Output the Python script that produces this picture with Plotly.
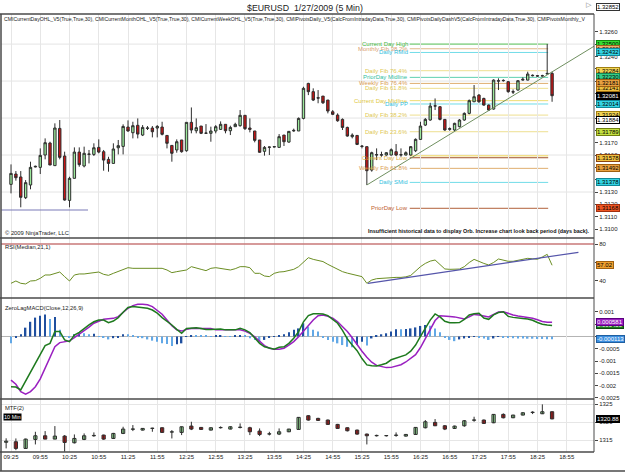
import plotly.graph_objects as go
from plotly.subplots import make_subplots
import pandas as pd

# ---------------- DATA ----------------
bar_times = pd.date_range("2009-01-27 09:25", periods=112, freq="5min")

opens = [1.31362,1.31446,1.31422,1.31254,1.31357,1.31503,1.31500,1.31600,1.31697,1.31514,
1.31816,1.31592,1.31232,1.31411,1.31624,1.31511,1.31605,1.31605,1.31662,1.31627,
1.31565,1.31532,1.31659,1.31670,1.31827,1.31781,1.31841,1.31762,1.31816,1.31819,
1.31819,1.31827,1.31759,1.31678,1.31641,1.31722,1.31635,1.31865,1.31797,1.31835,
1.31776,1.31776,1.31795,1.31808,1.31849,1.31797,1.31830,1.31838,1.31922,1.31819,
1.31795,1.31722,1.31630,1.31662,1.31665,1.31662,1.31762,1.31705,1.31795,1.31795,
1.31897,1.32181,1.32114,1.32065,1.32078,1.32046,1.31951,1.31924,1.31889,1.31824,
1.31749,1.31759,1.31673,1.31668,1.31478,1.31600,1.31603,1.31600,1.31600,1.31627,
1.31600,1.31600,1.31600,1.31635,1.31727,1.31843,1.31884,1.31997,1.31992,1.31889,
1.31808,1.31803,1.31830,1.31884,1.31938,1.32032,1.32086,1.32059,1.32005,1.31973,
1.32203,1.32203,1.32195,1.32114,1.32127,1.32208,1.32208,1.32243,1.32243,1.32241,
1.32257,1.32262]
highs = [1.31524,1.31470,1.31470,1.31397,1.31546,1.31514,1.31654,1.31735,1.31708,1.31857,
1.31884,1.31627,1.31424,1.31662,1.31662,1.31668,1.31641,1.31695,1.31727,1.31641,
1.31586,1.31695,1.31722,1.31849,1.31881,1.31870,1.31897,1.31843,1.31835,1.31835,
1.31843,1.31870,1.31762,1.31678,1.31727,1.31722,1.31865,1.31986,1.31897,1.31835,
1.31851,1.31830,1.31843,1.31873,1.31849,1.31838,1.31862,1.31965,1.31922,1.31897,
1.31795,1.31722,1.31673,1.31668,1.31670,1.31770,1.31762,1.31795,1.31814,1.31905,
1.32154,1.32186,1.32141,1.32127,1.32078,1.32046,1.31965,1.31938,1.31897,1.31830,
1.31776,1.31759,1.31681,1.31668,1.31627,1.31654,1.31627,1.31624,1.31654,1.31689,
1.31654,1.31630,1.31673,1.31735,1.31870,1.31900,1.32024,1.32059,1.31997,1.31892,
1.31824,1.31862,1.31892,1.31946,1.32051,1.32168,1.32095,1.32065,1.32010,1.32214,
1.32222,1.32214,1.32200,1.32132,1.32208,1.32230,1.32276,1.32254,1.32249,1.32251,
1.32500,1.32276]
lows = [1.31289,1.31392,1.31176,1.31243,1.31322,1.31500,1.31446,1.31565,1.31519,1.31514,
1.31565,1.31230,1.31176,1.31411,1.31505,1.31500,1.31532,1.31592,1.31614,1.31473,
1.31465,1.31532,1.31605,1.31605,1.31789,1.31735,1.31735,1.31754,1.31803,1.31743,
1.31743,1.31759,1.31654,1.31546,1.31619,1.31619,1.31627,1.31776,1.31776,1.31770,
1.31773,1.31708,1.31776,1.31803,1.31776,1.31762,1.31830,1.31830,1.31803,1.31784,
1.31703,1.31619,1.31595,1.31600,1.31662,1.31662,1.31673,1.31700,1.31789,1.31795,
1.31889,1.32086,1.32038,1.32020,1.32014,1.31938,1.31924,1.31870,1.31803,1.31749,
1.31735,1.31681,1.31654,1.31357,1.31465,1.31559,1.31586,1.31595,1.31597,1.31592,
1.31586,1.31597,1.31595,1.31624,1.31722,1.31835,1.31878,1.31965,1.31881,1.31797,
1.31797,1.31795,1.31824,1.31878,1.31930,1.32030,1.32024,1.32000,1.31957,1.31968,
1.32127,1.32195,1.32105,1.32095,1.32122,1.32203,1.32205,1.32238,1.32235,1.32238,
1.32254,1.32032]
closes = [1.31451,1.31416,1.31257,1.31376,1.31500,1.31508,1.31597,1.31700,1.31519,1.31819,
1.31581,1.31235,1.31411,1.31624,1.31522,1.31614,1.31608,1.31659,1.31624,1.31559,
1.31532,1.31649,1.31676,1.31832,1.31795,1.31838,1.31770,1.31824,1.31819,1.31789,
1.31832,1.31768,1.31695,1.31614,1.31708,1.31627,1.31865,1.31803,1.31822,1.31776,
1.31778,1.31795,1.31830,1.31849,1.31797,1.31824,1.31849,1.31922,1.31814,1.31808,
1.31719,1.31622,1.31662,1.31665,1.31668,1.31749,1.31708,1.31792,1.31800,1.31897,
1.32141,1.32114,1.32046,1.32062,1.32024,1.31957,1.31930,1.31878,1.31824,1.31754,
1.31762,1.31686,1.31670,1.31473,1.31619,1.31603,1.31600,1.31619,1.31643,1.31600,
1.31603,1.31619,1.31668,1.31727,1.31835,1.31889,1.31997,1.31999,1.31889,1.31803,
1.31814,1.31857,1.31884,1.31938,1.32041,1.32073,1.32032,1.32005,1.31965,1.32208,
1.32200,1.32205,1.32114,1.32111,1.32203,1.32214,1.32257,1.32246,1.32241,1.32243,
1.32262,1.32081]

rsi = [37.5,40.0,37.5,36.8,40.0,40.4,42.9,46.5,46.5,48.3,
49.7,44.7,40.0,46.5,47.6,47.6,48.3,49.0,49.7,47.2,
46.1,48.3,50.1,51.9,54.4,53.7,53.7,53.3,53.7,54.0,
53.7,53.7,51.9,49.0,50.1,50.8,51.9,55.5,53.7,52.6,
51.2,53.7,54.4,53.7,52.6,51.9,53.3,55.5,55.5,54.4,
48.3,48.3,45.4,44.7,48.3,49.7,50.1,51.2,52.6,55.5,
60.9,65.2,63.4,61.9,61.0,58.0,55.5,52.5,50.1,48.5,
47.2,46.0,44.7,37.5,41.0,42.5,43.0,43.6,43.8,43.9,
43.9,44.5,46.0,51.0,55.5,59.0,61.5,62.7,58.0,53.0,
52.6,52.8,52.9,55.5,60.0,63.4,61.0,59.0,57.3,60.0,
63.8,62.5,61.3,61.3,62.5,63.5,64.5,64.0,63.5,66.0,
68.8,57.02]

macd = [-0.00205,-0.00206,-0.00218,-0.00182,-0.00150,-0.00109,-0.00073,-0.00037,-0.00028,0.00020,
0.00020,-0.00014,-0.00021,0.00006,0.00017,0.00033,0.00047,0.00060,0.00067,0.00067,
0.00056,0.00063,0.00077,0.00099,0.00118,0.00122,0.00120,0.00120,0.00115,0.00108,
0.00095,0.00077,0.00063,0.00047,0.00029,0.00013,0.00033,0.00036,0.00036,0.00033,
0.00029,0.00029,0.00029,0.00031,0.00027,0.00027,0.00027,0.00033,0.00027,0.00016,
-0.00007,-0.00028,-0.00042,-0.00048,-0.00052,-0.00044,-0.00042,-0.00028,-0.00007,0.00020,
0.00060,0.00085,0.00093,0.00093,0.00092,0.00085,0.00070,0.00054,0.00025,-0.00010,
-0.00035,-0.00058,-0.00090,-0.00116,-0.00119,-0.00120,-0.00115,-0.00109,-0.00095,-0.00088,
-0.00083,-0.00075,-0.00060,-0.00035,0.00000,0.00035,0.00067,0.00092,0.00080,0.00062,
0.00056,0.00056,0.00057,0.00070,0.00088,0.00093,0.00095,0.00075,0.00070,0.00088,
0.00098,0.00101,0.00082,0.00078,0.00074,0.00073,0.00071,0.00066,0.00057,0.00050,
0.00047,0.00045]
macd_avg = [-0.00178,-0.00195,-0.00225,-0.00235,-0.00225,-0.00205,-0.00173,-0.00130,-0.00082,-0.00042,
-0.00025,-0.00021,-0.00018,-0.00005,0.00009,0.00022,0.00038,0.00054,0.00063,0.00070,
0.00072,0.00074,0.00081,0.00099,0.00115,0.00126,0.00131,0.00131,0.00129,0.00122,
0.00108,0.00091,0.00067,0.00044,0.00027,0.00022,0.00029,0.00033,0.00033,0.00033,
0.00033,0.00033,0.00027,0.00027,0.00027,0.00026,0.00026,0.00027,0.00022,0.00013,
-0.00001,-0.00021,-0.00037,-0.00048,-0.00052,-0.00052,-0.00048,-0.00035,-0.00021,-0.00001,
0.00022,0.00047,0.00067,0.00085,0.00088,0.00082,0.00075,0.00060,0.00042,0.00020,
-0.00005,-0.00035,-0.00060,-0.00085,-0.00105,-0.00118,-0.00124,-0.00127,-0.00126,-0.00121,
-0.00115,-0.00104,-0.00090,-0.00074,-0.00045,-0.00010,0.00030,0.00065,0.00085,0.00085,
0.00082,0.00080,0.00076,0.00071,0.00080,0.00090,0.00088,0.00085,0.00080,0.00090,
0.00100,0.00101,0.00093,0.00088,0.00084,0.00081,0.00078,0.00074,0.00068,0.00061,
0.00058,0.000581]
macd_diff = [-0.00028,-0.00004,0.00009,0.00036,0.00060,0.00077,0.00085,0.00090,0.00071,0.00080,
0.00027,0.00002,-0.00005,0.00009,0.00013,0.00013,0.00009,0.00011,0.00001,-0.00005,
-0.00012,-0.00007,-0.00003,0.00009,0.00009,0.00006,-0.00005,-0.00007,-0.00012,-0.00017,
-0.00021,-0.00028,-0.00031,-0.00039,-0.00032,-0.00028,-0.00001,0.00006,0.00006,0.00003,
0.00003,0.00002,0.00003,0.00004,0.00002,0.00002,0.00004,0.00006,0.00006,-0.00007,
-0.00014,-0.00021,-0.00014,-0.00005,-0.00001,0.00006,0.00009,0.00017,0.00027,0.00033,
0.00054,0.00040,0.00027,0.00020,-0.00005,-0.00014,-0.00021,-0.00028,-0.00035,-0.00042,
-0.00044,-0.00035,-0.00021,-0.00037,-0.00008,0.00005,0.00009,0.00013,0.00020,0.00030,
0.00030,0.00031,0.00033,0.00037,0.00043,0.00047,0.00044,0.00033,0.00017,-0.00005,
-0.00014,-0.00019,-0.00012,-0.00008,-0.00004,-0.00001,-0.00003,-0.00008,-0.00014,-0.00008,
-0.00002,-0.00004,-0.00005,-0.00007,-0.00008,-0.00008,-0.00009,-0.00009,-0.00010,-0.00010,
-0.00011,-0.000113]

mtf_times = pd.date_range("2009-01-27 09:20", periods=57, freq="10min")
mtf_open = [1314.40,1314.54,1312.69,1315.19,1316.20,1315.28,1316.11,1314.26,1315.19,1316.20,
1316.39,1315.46,1316.85,1318.00,1317.78,1318.24,1318.43,1317.22,1317.13,1318.89,
1318.52,1317.78,1318.43,1318.06,1318.50,1318.43,1317.50,1316.67,1316.67,1317.31,
1317.96,1321.76,1321.02,1320.56,1319.35,1318.43,1317.78,1316.67,1316.20,1316.20,
1316.30,1316.11,1316.57,1318.43,1319.91,1318.98,1318.24,1318.98,1320.50,1320.56,
1319.81,1322.13,1321.20,1321.94,1322.65,1322.31,1322.87]
mtf_high = [1315.50,1315.46,1315.40,1317.31,1317.50,1318.89,1316.39,1316.57,1316.85,1317.13,
1316.50,1317.00,1318.70,1319.17,1318.30,1318.43,1318.50,1317.78,1318.75,1320.09,
1318.60,1318.50,1318.80,1318.80,1319.63,1318.70,1318.24,1317.31,1318.24,1318.10,
1321.40,1321.90,1321.20,1320.70,1319.50,1318.50,1317.90,1316.80,1316.50,1316.40,
1317.13,1316.70,1318.60,1320.56,1320.83,1319.17,1319.00,1320.56,1321.48,1320.70,
1322.20,1322.41,1322.00,1322.70,1323.00,1324.91,1322.90]
mtf_low = [1312.70,1312.22,1312.60,1313.80,1315.28,1315.28,1311.76,1314.07,1315.00,1315.93,
1315.10,1315.30,1316.67,1317.50,1317.70,1317.31,1317.00,1315.46,1316.39,1317.78,
1317.90,1317.70,1318.20,1318.00,1318.24,1316.39,1316.11,1316.30,1316.39,1317.20,
1317.90,1320.40,1320.30,1319.20,1318.10,1317.40,1316.50,1313.80,1316.00,1316.00,
1315.93,1316.00,1316.50,1318.24,1318.89,1317.78,1318.10,1318.70,1320.09,1319.50,
1319.70,1321.02,1321.10,1321.90,1322.22,1322.22,1320.80]
mtf_close = [1314.70,1312.69,1315.28,1316.20,1315.28,1316.11,1314.35,1315.46,1316.20,1316.30,
1315.28,1316.85,1318.06,1318.10,1318.24,1318.30,1317.13,1317.30,1318.70,1318.06,
1317.96,1318.43,1318.50,1318.70,1318.60,1317.31,1316.57,1316.75,1317.31,1318.06,
1321.30,1320.56,1320.46,1319.35,1318.24,1317.59,1316.67,1316.20,1316.30,1316.25,
1316.40,1316.57,1318.52,1320.09,1318.98,1318.06,1318.89,1320.37,1320.60,1319.63,
1322.13,1321.20,1321.94,1322.59,1322.75,1322.87,1320.88]

# pivot / level lines
level_names = ["Current Day High", "Monthly Fib 38.2%", "Daily RMid", "Daily Fib 76.4%",
               "PriorDay Midline", "Weekly Fib 76.4%", "Daily Fib 61.8%", "Current Day Midline",
               "Daily PP", "Daily Fib 38.2%", "Daily Fib 23.6%", "Current Day Low",
               "Weekly Fib 61.8%", "Daily SMid", "PriorDay Low"]
level_values = [1.32500, 1.32462, 1.32432, 1.32284, 1.32230, 1.32181, 1.32141, 1.32041,
                1.32014, 1.31924, 1.31789, 1.31578, 1.31492, 1.31378, 1.31168]
level_line_colors = ["#5cc85c", "#e0b888", "#70dce8", "#eedf90", "#60d0b0", "#dfae70",
                     "#eedf90", "#eedc70", "#70dce8", "#eedf90", "#eedf90", "#a0522d",
                     "#dfae70", "#70dce8", "#b0603a"]
level_text_colors = ["#3cb83c", "#d9a070", "#30c0e0", "#e0c850", "#30c0a0", "#d99a50",
                     "#e0c850", "#e0c840", "#30c0e0", "#e0c850", "#e0c850", "#e0b040",
                     "#d99a50", "#30c0e0", "#c06030"]

# right-axis value boxes (value, background, text, border)
box_values = [1.32500, 1.32462, 1.32432, 1.32284, 1.32230, 1.32141, 1.32181, 1.32014,
              1.31924, 1.31884, 1.31789, 1.31578, 1.31492, 1.31378, 1.31168, 1.32081]
box_bg = ["#33dd33", "#eab070", "#33d4e4", "#f2d455", "#33cc88", "#f0c040", "#e8a040", "#33d4e4",
          "#f2d455", "#ffffff", "#c4e040", "#f0c040", "#e8a040", "#33d4e4", "#ee5522", "#000000"]
box_fg = ["#000000"] * 15 + ["#ffffff"]
box_border = ["#118811", "#a06020", "#118899", "#a08010", "#118855", "#a07010", "#a06010", "#118899",
              "#a08010", "#000000", "#708010", "#8b4513", "#a06010", "#118899", "#a03010", "#000000"]
top_box_text = "1.32852"

main_ticks = [1.3100, 1.3110, 1.3120, 1.3130, 1.3140, 1.3150, 1.3160, 1.3170, 1.3180,
              1.3190, 1.3200, 1.3210, 1.3220, 1.3230, 1.3240, 1.3250, 1.3260]
main_grid = [1.3130, 1.3160, 1.3190, 1.3220, 1.3250]
rsi_ticks = [40, 60, 80]
macd_ticks = [0.001, 0.0005, 0.0, -0.0005, -0.001, -0.0015, -0.002, -0.0025]
macd_ticktext = ["0.001", "0.0005", "0", "-0.0005", "-0.001", "-0.0015", "-0.002", "-0.0025"]
mtf_ticks = [1315, 1320, 1325]

trend_x = ["2009-01-27 15:30", "2009-01-27 19:25"]
trend_y = [1.31357, 1.32492]
support_x = ["2009-01-27 09:15", "2009-01-27 10:44"]
support_y = [1.31154, 1.31154]
rsi_trend_x = ["2009-01-27 15:31", "2009-01-27 19:07"]
rsi_trend_y = [37.5, 71.0]
level_start = "2009-01-27 16:14"
level_end = "2009-01-27 18:36"

# ---------------- GEOMETRY ----------------
W, H = 625, 474
PL, PR, PT, PB = 1, 594, 14, 452
def fx(px): return (px - PL) / (PR - PL)
def fy(py): return (PB - py) / (PB - PT)

FONT = "Arial, Liberation Sans, sans-serif"
x_range = ["2009-01-27 09:14:44", "2009-01-27 19:23:00"]

fig = make_subplots(rows=4, cols=1, shared_xaxes=True, vertical_spacing=0)

# main candles
fig.add_trace(go.Candlestick(
    x=bar_times, open=opens, high=highs, low=lows, close=closes,
    increasing=dict(fillcolor="#9be89b", line=dict(color="#2e2e2e", width=1)),
    decreasing=dict(fillcolor="#c81414", line=dict(color="#2e2e2e", width=1)),
    whiskerwidth=0, showlegend=False, hoverinfo="skip"), row=1, col=1)
fig.add_trace(go.Scatter(x=trend_x, y=trend_y, mode="lines",
    line=dict(color="#6f8f5f", width=1), showlegend=False, hoverinfo="skip"), row=1, col=1)
fig.add_trace(go.Scatter(x=support_x, y=support_y, mode="lines",
    line=dict(color="#7a7ab8", width=1.2), showlegend=False, hoverinfo="skip"), row=1, col=1)

# RSI
fig.add_trace(go.Scatter(x=bar_times, y=rsi, mode="lines",
    line=dict(color="#6b8e23", width=1), showlegend=False, hoverinfo="skip"), row=2, col=1)
fig.add_trace(go.Scatter(x=rsi_trend_x, y=rsi_trend_y, mode="lines",
    line=dict(color="#5555aa", width=1.2), showlegend=False, hoverinfo="skip"), row=2, col=1)

# MACD
hist_colors = []
for i, v in enumerate(macd_diff):
    prev = macd_diff[i - 1] if i > 0 else v
    hist_colors.append("#1f4f9f" if v > prev else "#62a8e6")
fig.add_trace(go.Bar(x=bar_times, y=macd_diff, width=90000, marker=dict(color=hist_colors, line=dict(width=0)),
    showlegend=False, hoverinfo="skip"), row=3, col=1)
fig.add_trace(go.Scatter(x=bar_times, y=macd_avg, mode="lines",
    line=dict(color="#9a20c0", width=1.5), showlegend=False, hoverinfo="skip"), row=3, col=1)
fig.add_trace(go.Scatter(x=bar_times, y=macd, mode="lines",
    line=dict(color="#1e7a1e", width=1.5), showlegend=False, hoverinfo="skip"), row=3, col=1)

# MTF 10-min candles (wicks + bodies)
wx, wy = [], []
for t, h, l in zip(mtf_times, mtf_high, mtf_low):
    wx += [t, t, None]
    wy += [l, h, None]
fig.add_trace(go.Scatter(x=wx, y=wy, mode="lines", line=dict(color="#2e2e2e", width=1),
    showlegend=False, hoverinfo="skip"), row=4, col=1)
body_base = [min(o, c) for o, c in zip(mtf_open, mtf_close)]
body_h = [max(abs(c - o), 0.07) for o, c in zip(mtf_open, mtf_close)]
body_col = ["#9be89b" if c >= o else "#c81414" for o, c in zip(mtf_open, mtf_close)]
fig.add_trace(go.Bar(x=mtf_times, y=body_h, base=body_base, width=200000,
    marker=dict(color=body_col, line=dict(color="#2e2e2e", width=1)),
    showlegend=False, hoverinfo="skip"), row=4, col=1)

shapes = []
annotations = []

# main grid (horizontal)
for g in main_grid:
    shapes.append(dict(type="line", xref="x domain", yref="y", x0=0, x1=1, y0=g, y1=g,
                       line=dict(color="#e4e4e4", width=1), layer="below"))
# pivot lines + texts
for name, val, lc, tc in zip(level_names, level_values, level_line_colors, level_text_colors):
    shapes.append(dict(type="line", xref="x", yref="y", x0=level_start, x1=level_end, y0=val, y1=val,
                       line=dict(color=lc, width=1), layer="below"))
    annotations.append(dict(x=level_start, y=val, xref="x", yref="y", text=name, showarrow=False,
                            xanchor="right", yanchor="middle", font=dict(family=FONT, size=6, color=tc)))
shapes.append(dict(type="line", xref="x", yref="y", x0=level_start, x1=level_end, y0=1.31594, y1=1.31594,
                   line=dict(color="#f2e08a", width=1.5), layer="below"))

# RSI 80 line, MACD zero line
shapes.append(dict(type="line", xref="x2 domain", yref="y2", x0=0, x1=1, y0=80, y1=80,
                   line=dict(color="#c87878", width=1.5)))
shapes.append(dict(type="line", xref="x3 domain", yref="y3", x0=0, x1=1, y0=0, y1=0,
                   line=dict(color="#b4b4b4", width=1), layer="below"))

# panel separators and frame
for py in [PT, 238, 298, 399, PB]:
    shapes.append(dict(type="line", xref="paper", yref="paper", x0=fx(0), x1=fx(PR), y0=fy(py), y1=fy(py),
                       line=dict(color="#4a4a4a", width=1.5)))
shapes.append(dict(type="line", xref="paper", yref="paper", x0=fx(1), x1=fx(1), y0=fy(471), y1=fy(PT),
                   line=dict(color="#4a4a4a", width=1.5)))
shapes.append(dict(type="line", xref="paper", yref="paper", x0=fx(0), x1=fx(625), y0=fy(471), y1=fy(471),
                   line=dict(color="#4a4a4a", width=1.5)))
shapes.append(dict(type="line", xref="paper", yref="paper", x0=fx(PR), x1=fx(PR), y0=0, y1=1,
                   line=dict(color="#4a4a4a", width=1)))

# texts
def txt(x, y, s, size=6, color="#222", xanchor="left", **kw):
    d = dict(x=fx(x), y=fy(y), xref="paper", yref="paper", text=s, showarrow=False,
             xanchor=xanchor, yanchor="middle", font=dict(family=FONT, size=size, color=color))
    d.update(kw)
    annotations.append(d)

txt(305, 8, "$EURUSD  1/27/2009 (5 Min)", size=8.8, xanchor="center")
txt(2, 19, "CMICurrentDayOHL_V5(True,True,30), CMICurrentMonthOHL_V5(True,True,30), "
           "CMICurrentWeekOHL_V5(True,True,30), CMIPivotsDaily_V5(CalcFromIntradayData,True,30), "
           "CMIPivotsDailyDashV5(CalcFromIntradayData,True,30), CMIPivotsMonthly_V",
    size=5.15, align="left")
txt(3, 233, "© 2009 NinjaTrader, LLC", size=5.8)
txt(592, 231, "<b>Insufficient historical data to display Orb. Increase chart look back period (days back).</b>",
    size=5.4, color="#111", xanchor="right")
txt(3, 247, "RSI(Median,21,1)", size=5.8)
txt(3, 308, "ZeroLagMACD(Close,12,26,9)", size=5.8)
txt(3, 408, "MTF(2)", size=5.8)
txt(3, 417, "10 Min", size=5.5, color="#fff", bgcolor="#000", borderpad=0)

# right-axis value boxes
for v, bg, fg, bd in zip(box_values, box_bg, box_fg, box_border):
    annotations.append(dict(x=fx(596), y=v, xref="paper", yref="y", text=f"{v:.5f}", showarrow=False,
                            xanchor="left", yanchor="middle", bgcolor=bg, bordercolor=bd, borderwidth=1,
                            borderpad=0, font=dict(family=FONT, size=6, color=fg)))
txt(596, 7, top_box_text, size=6, color="#000", bgcolor="#ffffff", bordercolor="#333", borderwidth=1, borderpad=0)
txt(589, 5, "▷", size=7, color="#777", xanchor="center")
annotations.append(dict(x=fx(596), y=rsi[-1], xref="paper", yref="y2", text=f"{rsi[-1]:.2f}", showarrow=False,
                        xanchor="left", yanchor="middle", bgcolor="#f0a030", bordercolor="#a06010", borderwidth=1,
                        borderpad=0, font=dict(family=FONT, size=6, color="#000")))
annotations.append(dict(x=fx(596), y=macd[-1], xref="paper", yref="y3", text=f"{macd[-1]:.6f}", showarrow=False,
                        xanchor="left", yanchor="middle", bgcolor="#1e7a1e", bordercolor="#0e4a0e", borderwidth=1,
                        borderpad=0, font=dict(family=FONT, size=6, color="#fff")))
annotations.append(dict(x=fx(596), y=macd_avg[-1], xref="paper", yref="y3", text=f"{macd_avg[-1]:.6f}", showarrow=False,
                        xanchor="left", yanchor="middle", bgcolor="#9a20c0", bordercolor="#5a0080", borderwidth=1,
                        borderpad=0, font=dict(family=FONT, size=6, color="#fff")))
annotations.append(dict(x=fx(596), y=macd_diff[-1], xref="paper", yref="y3", text=f"{macd_diff[-1]:.6f}", showarrow=False,
                        xanchor="left", yanchor="middle", bgcolor="#3d8fe0", bordercolor="#1f5fa0", borderwidth=1,
                        borderpad=0, font=dict(family=FONT, size=6, color="#fff")))
annotations.append(dict(x=fx(596), y=mtf_close[-1], xref="paper", yref="y4", text=f"{mtf_close[-1]:.2f}", showarrow=False,
                        xanchor="left", yanchor="middle", bgcolor="#000", bordercolor="#000", borderwidth=1,
                        borderpad=0, font=dict(family=FONT, size=6, color="#fff")))

fig.update_layout(
    width=W, height=H, margin=dict(l=PL, r=W - PR, t=PT, b=H - PB),
    paper_bgcolor="white", plot_bgcolor="white", showlegend=False,
    barmode="overlay", font=dict(family=FONT, size=6, color="#222"),
    shapes=shapes, annotations=annotations,
)
xcommon = dict(type="date", range=x_range, showgrid=True, gridcolor="#e6e6e6", gridwidth=1,
               tickmode="linear", tick0="2009-01-27 09:25:00", dtick=1800000, tickformat="%H:%M",
               zeroline=False, showline=False, ticks="", rangeslider=dict(visible=False))
fig.update_layout(
    xaxis=dict(**xcommon, showticklabels=False),
    xaxis2=dict(**xcommon, showticklabels=False),
    xaxis3=dict(**xcommon, showticklabels=False),
    xaxis4=dict(**xcommon, showticklabels=True, tickfont=dict(family=FONT, size=6, color="#222")),
)
ycommon = dict(side="right", zeroline=False, ticks="outside", ticklen=3, tickcolor="#444",
               tickfont=dict(family=FONT, size=6, color="#222"), showline=False)
fig.update_layout(
    yaxis=dict(**ycommon, domain=[fy(238), 1], range=[1.30927, 1.32744], tickmode="array",
               tickvals=main_ticks, ticktext=[f"{v:.4f}" for v in main_ticks], showgrid=False),
    yaxis2=dict(**ycommon, domain=[fy(298), fy(238)], range=[21.6, 86.5], tickmode="array",
                tickvals=rsi_ticks, ticktext=[str(v) for v in rsi_ticks], showgrid=False),
    yaxis3=dict(**ycommon, domain=[fy(399), fy(298)], range=[-0.00255, 0.00157], tickmode="array",
                tickvals=macd_ticks, ticktext=macd_ticktext, showgrid=False),
    yaxis4=dict(**ycommon, domain=[0, fy(399)], range=[1311.7, 1326.4], tickmode="array",
                tickvals=mtf_ticks, ticktext=[str(v) for v in mtf_ticks], showgrid=True, gridcolor="#e6e6e6"),
)

fig.write_html("out.html")
